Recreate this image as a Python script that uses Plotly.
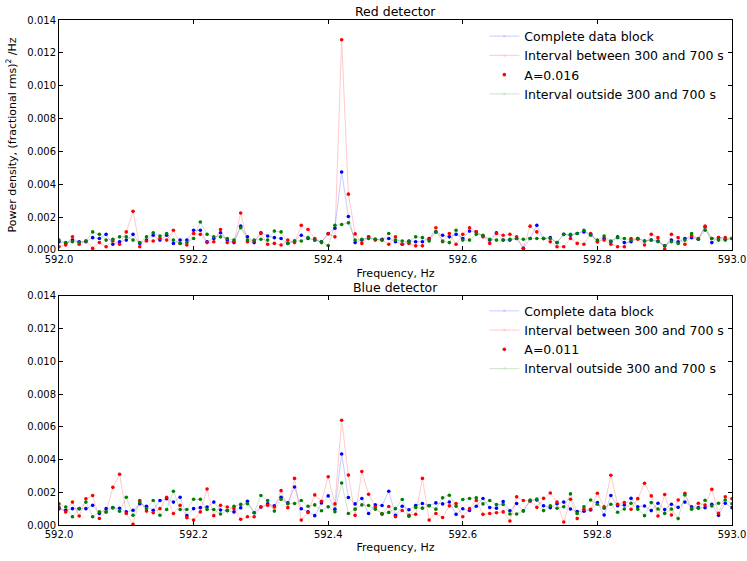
import plotly.graph_objects as go

# Frequency grid (Hz), 0.01 Hz steps from 592.00 to 593.00
freq = [round(592.0 + 0.01 * k, 2) for k in range(101)]

# ---- Red detector (values in units of 1e-3) ----
red_complete = [0.5,0.4,0.6,0.5,0.5,0.75,0.7,0.95,0.35,0.5,0.6,0.95,0.4,0.6,0.9,0.6,0.9,0.4,0.6,0.6,
                1.2,1.2,0.5,0.7,1.05,0.6,0.45,1.45,0.8,0.45,1.05,0.85,0.75,0.7,0.4,0.55,0.9,0.7,0.6,0.5,
                1.0,1.33,4.75,2.04,0.45,0.6,0.8,0.65,0.65,0.7,0.5,0.35,0.55,0.5,0.5,0.7,1.1,0.9,0.8,0.95,
                0.7,1.15,1.1,0.85,0.6,1.05,0.6,0.6,0.7,0.1,0.7,1.5,0.7,0.75,0.45,0.95,0.9,1.0,1.1,0.95,
                0.5,0.7,0.5,0.8,0.45,0.5,0.7,0.55,0.6,0.55,0.25,0.6,0.5,0.7,0.75,0.65,1.4,0.45,0.75,0.65,0.7]
red_between = [0.2,0.3,0.8,0.35,0.55,0.1,0.45,0.2,0.55,0.35,1.1,2.35,0.2,0.55,0.55,0.7,0.6,1.2,0.4,0.3,
               1.0,0.95,0.45,0.5,1.25,0.45,0.5,2.25,0.5,0.55,1.0,0.35,0.4,0.3,0.6,0.45,1.5,1.25,0.7,0.45,
               0.98,0.8,12.8,3.4,0.98,0.4,0.8,0.6,0.6,0.35,0.8,0.35,0.4,0.25,0.25,0.65,1.35,0.5,1.0,0.35,
               0.95,1.35,1.1,0.8,0.4,1.0,0.9,0.95,0.8,0.1,1.45,1.1,0.7,0.5,0.2,0.2,0.7,0.4,0.35,1.0,
               0.5,0.6,0.35,0.2,0.2,0.7,0.65,0.3,0.95,0.75,0.05,0.95,0.75,0.35,0.85,0.7,1.45,0.7,0.75,0.75,0.7]
red_outside = [0.6,0.45,0.5,0.45,0.55,1.1,0.95,0.6,0.65,0.8,0.8,0.6,0.45,0.8,1.05,0.85,1.0,0.6,0.4,0.45,
               0.7,1.7,0.95,0.8,0.8,0.7,0.6,1.35,0.6,0.6,0.65,0.6,1.15,1.1,0.4,0.55,0.55,0.75,0.6,0.5,
               0.27,1.5,1.55,1.65,0.6,0.65,0.7,0.65,0.6,1.0,0.6,0.55,0.5,0.8,0.75,0.55,1.1,0.55,0.45,1.2,
               0.6,0.6,0.95,0.9,0.65,0.6,0.6,0.65,0.7,0.65,0.7,0.7,0.7,0.7,0.45,0.95,0.95,1.0,1.2,0.9,
               0.6,0.85,0.55,0.75,0.7,0.6,0.7,0.55,0.6,0.5,0.25,0.5,0.4,0.6,1.0,0.65,1.2,0.7,0.6,0.6,0.7]

# ---- Blue detector (values in units of 1e-3) ----
blue_complete = [1.0,0.9,1.0,1.0,1.0,1.2,0.7,1.0,1.06,1.02,0.8,0.9,1.3,1.15,0.9,1.5,1.6,1.4,1.7,0.57,
                 1.0,1.06,1.1,1.4,0.92,0.88,0.8,1.05,1.45,0.75,1.1,1.3,1.18,1.7,1.35,2.32,0.99,0.81,0.57,1.35,
                 1.78,0.97,4.34,1.68,1.29,1.62,0.7,1.23,1.19,2.06,0.59,1.15,0.93,1.19,1.31,1.19,1.35,1.29,1.41,0.65,
                 0.99,0.89,1.15,1.62,1.07,1.03,1.43,0.87,1.31,0.87,1.47,1.53,1.18,1.06,1.3,1.4,0.98,0.82,0.84,0.92,
                 1.37,0.61,1.8,1.18,1.22,1.63,1.12,1.16,0.88,1.33,0.94,1.27,1.08,1.4,1.12,1.06,1.06,1.27,0.59,1.33,1.06]
blue_between = [1.1,0.8,1.4,0.55,1.6,1.8,0.4,0.8,2.3,3.1,0.7,0.05,1.5,0.85,0.75,1.0,1.7,0.7,1.2,0.45,
                0.3,0.8,2.2,0.57,1.2,1.1,1.0,0.35,0.5,0.5,1.1,1.2,1.1,2.1,1.06,2.85,0.3,0.77,1.84,1.45,
                2.95,1.29,6.4,3.05,0.59,3.27,1.88,1.1,0.65,1.13,0.5,0.89,0.6,0.65,2.85,0.3,0.7,0.46,1.17,1.31,
                0.5,1.0,1.5,0.65,0.7,0.75,0.8,0.24,1.72,1.5,1.47,1.08,1.63,1.96,1.4,0.18,1.57,0.39,0.96,0.96,
                1.94,1.12,3.04,1.27,1.37,0.96,1.61,2.55,1.78,0.55,1.86,0.61,1.53,1.94,1.02,1.33,1.22,2.18,0.71,1.73,1.6]
blue_outside = [1.3,1.1,0.5,1.0,1.4,0.5,0.8,0.8,1.05,0.84,1.7,0.6,1.4,1.0,1.5,0.6,0.95,2.06,0.95,0.95,
                1.57,1.57,0.95,0.95,0.67,0.88,1.15,1.26,1.3,0.75,1.8,1.5,0.85,1.57,1.3,1.31,1.5,1.15,1.23,0.87,
                1.11,0.81,2.57,0.7,0.97,1.23,1.19,0.97,0.7,0.77,1.0,1.56,0.53,1.07,1.03,1.17,0.97,1.66,1.82,1.15,
                1.56,1.62,1.66,1.29,1.5,1.25,1.25,0.67,0.67,0.85,1.53,1.59,0.88,1.18,1.02,1.12,1.9,0.71,1.12,1.53,
                1.27,1.02,1.27,0.78,0.98,1.33,0.96,0.57,1.37,0.98,0.71,0.98,0.39,1.84,0.96,1.02,1.51,1.16,1.33,1.53,1.3]

panels = [
    ("A=0.016", red_complete, red_between, red_outside, "x", "y", "legend"),
    ("A=0.011", blue_complete, blue_between, blue_outside, "x2", "y2", "legend2"),
]

BLUE = "rgb(0,0,255)"
RED = "rgb(255,0,0)"
GREEN = "rgb(0,128,0)"
FONT = "DejaVu Sans"
MS = 3.6

fig = go.Figure()
for alabel, comp, betw, outs, xa, ya, lg in panels:
    comp = [v * 1e-3 for v in comp]
    betw = [v * 1e-3 for v in betw]
    outs = [v * 1e-3 for v in outs]
    fig.add_trace(go.Scatter(x=freq, y=comp, mode="lines+markers", name="Complete data block",
                             line=dict(color=BLUE, width=1), marker=dict(size=2.5, color=BLUE),
                             opacity=0.2, xaxis=xa, yaxis=ya, legend=lg))
    fig.add_trace(go.Scatter(x=freq, y=comp, mode="markers", showlegend=False,
                             marker=dict(size=MS, color=BLUE), xaxis=xa, yaxis=ya, legend=lg))
    fig.add_trace(go.Scatter(x=freq, y=betw, mode="lines+markers", name="Interval between 300 and 700 s",
                             line=dict(color=RED, width=1), marker=dict(size=2.5, color=RED),
                             opacity=0.2, xaxis=xa, yaxis=ya, legend=lg))
    fig.add_trace(go.Scatter(x=freq, y=betw, mode="markers", name=alabel,
                             marker=dict(size=MS, color=RED), xaxis=xa, yaxis=ya, legend=lg))
    fig.add_trace(go.Scatter(x=freq, y=outs, mode="lines+markers", name="Interval outside 300 and 700 s",
                             line=dict(color=GREEN, width=1), marker=dict(size=2.5, color=GREEN),
                             opacity=0.2, xaxis=xa, yaxis=ya, legend=lg))
    fig.add_trace(go.Scatter(x=freq, y=outs, mode="markers", showlegend=False,
                             marker=dict(size=MS, color=GREEN), xaxis=xa, yaxis=ya, legend=lg))

axis_common = dict(showline=True, linecolor="black", linewidth=1, mirror="ticks",
                   ticks="inside", ticklen=4, tickcolor="black", showgrid=False, zeroline=False,
                   automargin=False, ticklabeloverflow="allow",
                   tickfont=dict(family=FONT, size=10, color="black"))
xticks = [592.0, 592.2, 592.4, 592.6, 592.8, 593.0]
xticktext = ["592.0", "592.2", "592.4", "592.6", "592.8", "593.0"]
yticks = [0.0, 0.002, 0.004, 0.006, 0.008, 0.010, 0.012, 0.014]
xrange_ = [592.0, 593.0000001]

fig.update_layout(
    width=747, height=561,
    margin=dict(l=59, r=15, t=20, b=36),
    paper_bgcolor="white", plot_bgcolor="white",
    font=dict(family=FONT, color="black"),
    xaxis=dict(domain=[0, 1], range=xrange_, tickvals=xticks, ticktext=xticktext,
               anchor="y", title=dict(text="Frequency, Hz", font=dict(size=11), standoff=5), **axis_common),
    yaxis=dict(domain=[0.5446, 1.0], range=[0, 0.014], tickvals=yticks, tickformat=".3f",
               anchor="x", title=dict(text="Power density, (fractional rms)<sup>2</sup> /Hz",
                                      font=dict(size=11), standoff=8), **axis_common),
    xaxis2=dict(domain=[0, 1], range=xrange_, tickvals=xticks, ticktext=xticktext,
                anchor="y2", title=dict(text="Frequency, Hz", font=dict(size=11), standoff=4), **axis_common),
    yaxis2=dict(domain=[0, 0.4535], range=[0, 0.014], tickvals=yticks, tickformat=".3f",
                anchor="x2", **axis_common),
    legend=dict(x=0.632, y=0.997, xanchor="left", yanchor="top", bgcolor="rgba(255,255,255,0)",
                font=dict(family=FONT, size=12.5), itemwidth=30, tracegroupgap=0),
    legend2=dict(x=0.632, y=0.453, xanchor="left", yanchor="top", bgcolor="rgba(255,255,255,0)",
                 font=dict(family=FONT, size=12.5), itemwidth=30, tracegroupgap=0),
    annotations=[
        dict(text="Red detector", x=0.5, y=1.0, xref="paper", yref="paper", xanchor="center",
             yanchor="bottom", yshift=-1, showarrow=False, font=dict(family=FONT, size=12.5)),
        dict(text="Blue detector", x=0.5, y=0.4535, xref="paper", yref="paper", xanchor="center",
             yanchor="bottom", yshift=-1, showarrow=False, font=dict(family=FONT, size=12.5)),
    ],
)

fig.write_html("out.html")
